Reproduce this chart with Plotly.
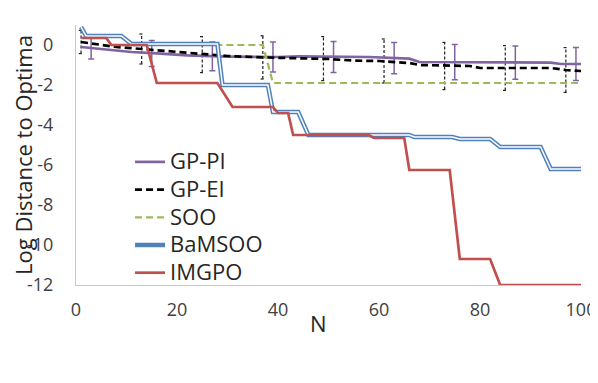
import plotly.graph_objects as go

# step-wise series: breakpoints (N, log distance)
imgpo_n = [1, 6, 7, 14, 16, 28, 31, 39, 40, 42, 43, 58, 59, 65, 66, 74, 76, 82, 84, 100]
imgpo_v = [0.35, 0.35, 0.0, 0.0, -1.9, -1.9, -3.1, -3.1, -3.4, -3.4, -4.5, -4.5, -4.65, -4.65,
           -6.25, -6.25, -10.7, -10.7, -12, -12]

bamsoo_n = [1, 2, 9, 11, 28, 29, 38, 39, 44, 46, 66, 67, 74.5, 76, 82, 84, 92, 94, 100]
bamsoo_v = [0.9, 0.45, 0.45, 0.05, 0.05, -2.0, -2.0, -3.35, -3.35, -4.5, -4.5, -4.6, -4.6,
            -4.7, -4.7, -5.1, -5.1, -6.2, -6.2]

soo_n = [1, 2, 9, 11, 37, 39, 100]
soo_v = [0.9, 0.45, 0.45, 0.0, 0.0, -1.9, -1.9]

pi_n = [1, 5, 11, 16, 22, 30, 40, 44, 58, 66, 68, 94, 96, 100]
pi_v = [-0.1, -0.2, -0.35, -0.42, -0.52, -0.58, -0.6, -0.57, -0.6, -0.68, -0.85, -0.88, -0.95, -0.95]

ei_n = [1, 3, 8, 13, 22, 30, 37, 45, 50, 55, 60, 66, 68, 78, 80, 94, 97, 100]
ei_v = [0.15, 0.07, -0.1, -0.2, -0.4, -0.55, -0.62, -0.65, -0.7, -0.78, -0.8, -0.9, -1.0,
        -1.05, -1.15, -1.15, -1.25, -1.3]

# error bars
pi_err_n = [3, 15, 27, 39, 51, 63, 75, 87, 99]
pi_err_c = [-0.15, -0.42, -0.57, -0.6, -0.6, -0.66, -0.86, -0.88, -0.95]
pi_err = [0.55, 0.65, 0.72, 0.75, 0.78, 0.78, 0.88, 0.83, 0.82]

ei_err_n = [1, 13, 25, 37, 49, 61, 73, 85, 97]
ei_err_c = [0.15, -0.2, -0.48, -0.62, -0.68, -0.8, -1.05, -1.15, -1.25]
ei_err = [0.58, 0.75, 0.9, 1.08, 1.1, 1.1, 1.18, 1.12, 1.12]

x_ticks = [0, 20, 40, 60, 80, 100]
y_ticks = [0, -2, -4, -6, -8, -10, -12]
y_ticktext = ["0", "-2", "-4", "-6", "-8", "-10", "-12"]

PURPLE = "#8064A2"
GREEN = "#9BBB59"
BLUE = "#4F81BD"
RED = "#C0504D"
FONT = "Open Sans"


def legend_name(s):
    # bigger text than the legend font so rows stay tight like the original
    return f"<span style='font-size:22px'>{s}</span>"


# dashed black error bars drawn as line segments (bar + caps)
cap = 0.45
eb_x, eb_y = [], []
for n, c, e in zip(ei_err_n, ei_err_c, ei_err):
    eb_x += [n, n, None, n - cap, n + cap, None, n - cap, n + cap, None]
    eb_y += [c - e, c + e, None, c + e, c + e, None, c - e, c - e, None]

fig = go.Figure()

fig.add_trace(go.Scatter(
    x=pi_err_n, y=pi_err_c, mode="markers", marker=dict(size=0.1, color="rgba(0,0,0,0)"),
    error_y=dict(type="data", array=pi_err, color=PURPLE, thickness=1.5, width=3),
    showlegend=False, hoverinfo="skip"))
fig.add_trace(go.Scatter(
    x=eb_x, y=eb_y, mode="lines", line=dict(color="#222222", width=1.2, dash="3px,2px"),
    showlegend=False, hoverinfo="skip"))

fig.add_trace(go.Scatter(x=pi_n, y=pi_v, mode="lines", name=legend_name("GP-PI"),
                         line=dict(color=PURPLE, width=2.7)))
fig.add_trace(go.Scatter(x=ei_n, y=ei_v, mode="lines", name=legend_name("GP-EI"),
                         line=dict(color="black", width=2.7, dash="7px,4px")))
fig.add_trace(go.Scatter(x=soo_n, y=soo_v, mode="lines", name=legend_name("SOO"),
                         line=dict(color=GREEN, width=2.2, dash="7px,4px")))
fig.add_trace(go.Scatter(x=bamsoo_n, y=bamsoo_v, mode="lines", name=legend_name("BaMSOO"),
                         line=dict(color=BLUE, width=4.5), legendgroup="bamsoo"))
fig.add_trace(go.Scatter(x=bamsoo_n, y=bamsoo_v, mode="lines", name="BaMSOO",
                         line=dict(color="white", width=1.5), legendgroup="bamsoo",
                         showlegend=False, hoverinfo="skip"))
fig.add_trace(go.Scatter(x=imgpo_n, y=imgpo_v, mode="lines", name=legend_name("IMGPO"),
                         line=dict(color=RED, width=2.7)))

fig.add_annotation(x=0.481, y=-0.146, xref="paper", yref="paper", text="N",
                   showarrow=False, font=dict(family=FONT, size=22, color="#262626"),
                   xanchor="center", yanchor="middle")

# page body has an 8px margin, so the figure is kept inside the window
fig.update_layout(
    width=590, height=367,
    margin=dict(l=68, r=17, t=17, b=90),
    paper_bgcolor="white", plot_bgcolor="white",
    font=dict(family=FONT, color="#404040"),
    xaxis=dict(range=[0, 100], tickvals=x_ticks, showgrid=False, zeroline=False,
               showline=True, linecolor="#c8c8c8", linewidth=1.2, automargin=False,
               ticks="outside", ticklen=8, tickcolor="rgba(0,0,0,0)",
               tickfont=dict(size=18, color="#404040")),
    yaxis=dict(range=[-12, 1], tickvals=y_ticks, ticktext=y_ticktext,
               showgrid=False, zeroline=False, automargin=False,
               showline=True, linecolor="#c8c8c8", linewidth=1.2,
               ticks="outside", ticklen=18, tickcolor="rgba(0,0,0,0)",
               tickfont=dict(size=18, color="#404040"),
               title=dict(text="Log Distance to Optima", standoff=2,
                          font=dict(family=FONT, size=22, color="#262626"))),
    legend=dict(x=0.107, y=0.546, xanchor="left", yanchor="top",
                bgcolor="rgba(0,0,0,0)", font=dict(family=FONT, size=19, color="#262626"),
                tracegroupgap=0),
    showlegend=True,
)

fig.write_html("out.html")
